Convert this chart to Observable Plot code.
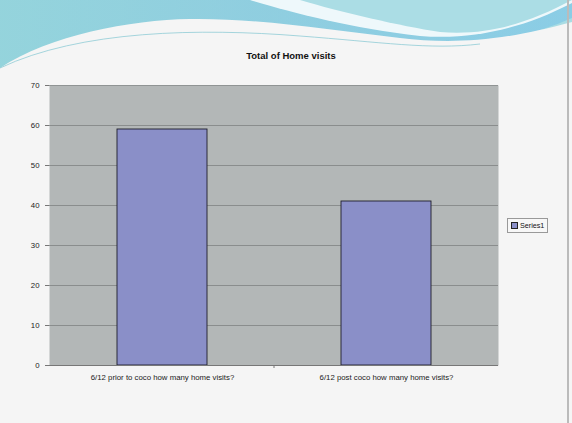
<!DOCTYPE html>
<html>
<head>
<meta charset="utf-8">
<script src="https://cdn.jsdelivr.net/npm/d3@7"></script>
<script src="https://cdn.jsdelivr.net/npm/@observablehq/plot@0.6"></script>
<style>
  html, body { margin: 0; padding: 0; }
  body { width: 572px; height: 423px; background: #f5f5f5; position: relative; overflow: hidden; font-family: "Liberation Sans", Arial, sans-serif; }
  #deco { position: absolute; left: 0; top: 0; }
  #chart { position: absolute; left: 0; top: 0; }
  #title { position: absolute; left: 0; width: 582px; top: 50px; text-align: center; font-weight: bold; font-size: 9.5px; color: #111; }
  #legend { position: absolute; left: 507px; top: 218px; border: 1px solid #999; background: #f7f7f7; padding: 2px 3px; font-size: 7.2px; color: #111; display: flex; align-items: center; gap: 2px; }
  #legend .sw { width: 5px; height: 5px; background: #8a8fc8; border: 1px solid #222; }
</style>
</head>
<body>
<svg id="deco" width="572" height="423">
  <defs>
    <linearGradient id="g1" x1="0" x2="1" y1="0" y2="0">
      <stop offset="0" stop-color="#7cc3d3"/>
      <stop offset="0.45" stop-color="#8ec6d8"/>
      <stop offset="1" stop-color="#a9dde4"/>
    </linearGradient>
    <linearGradient id="g2" x1="0" x2="1" y1="0" y2="0">
      <stop offset="0" stop-color="#9fdbe0"/>
      <stop offset="1" stop-color="#7ec6e6"/>
    </linearGradient>
  </defs>
  <rect x="0" y="0" width="572" height="70" fill="url(#g1)"/>
  <path d="M0,68 C60,48 200,40 300,42 C380,44 420,50 460,46 C510,40 545,30 572,18 L572,0 L0,0 Z" fill="url(#g2)" opacity="0.7"/>
  <path d="M0,68 C50,35 130,20 190,19 C260,18 330,30 400,38 C450,44 500,42 572,22 L572,423 L0,423 Z" fill="#f5f5f5"/>
  <path d="M250,0 C290,12 350,28 420,36 C470,40 520,30 572,3 L572,0 Z" fill="#ffffff" opacity="0.85"/>
  <path d="M300,0 C340,12 400,26 440,32 C490,36 530,22 572,0 Z" fill="#abdde5"/>
  <path d="M0,68 C80,30 200,28 300,36 C380,42 430,50 480,44" fill="none" stroke="#8fcbd6" stroke-width="0.8"/>
  <line x1="568" y1="0" x2="568" y2="423" stroke="#bbbbbb" stroke-width="2"/>
</svg>
<div id="chart"></div>
<div id="title">Total of Home visits</div>
<div id="legend"><span class="sw"></span><span>Series1</span></div>
<script>
const categories = ["6/12 prior to coco how many home visits?", "6/12 post coco how many home visits?"];
const values = [59, 41];
const yTicks = [0, 10, 20, 30, 40, 50, 60, 70];

const data = categories.map((c, i) => ({category: c, value: values[i]}));

const plot = Plot.plot({
  width: 572,
  height: 423,
  marginLeft: 49,
  marginRight: 74,
  marginTop: 85,
  marginBottom: 58,
  style: {background: "transparent", fontFamily: "Liberation Sans, Arial, sans-serif", fontSize: "7.8px", color: "#222"},
  x: {domain: categories, paddingInner: 0.6, paddingOuter: 0.3, label: null},
  y: {domain: [0, 70], ticks: yTicks, label: null},
  marks: [
    Plot.frame({fill: "#b3b7b7", stroke: null}),
    Plot.gridY(yTicks, {stroke: "#7f8383", strokeOpacity: 1, strokeWidth: 0.8}),
    Plot.barY(data, {x: "category", y: "value", fill: "#8a8fc8", stroke: "#1e1e2a", strokeWidth: 0.9}),
    Plot.axisY({ticks: yTicks, tickSize: 4, tickPadding: 6, stroke: "#777", fill: "#222", fontSize: 7.8}),
    Plot.ruleX([0], {stroke: "#777"}),
    Plot.ruleY([0], {stroke: "#777"}),
    Plot.axisX({tickSize: 0, tickPadding: 9, fill: "#222", fontSize: 7.8})
  ]
});
document.getElementById("chart").appendChild(plot);

// small divider tick between the two categories, placed via the scales
const xs = plot.scale("x");
const ys = plot.scale("y");
const mid = (xs.apply(categories[0]) + xs.bandwidth + xs.apply(categories[1])) / 2;
d3.select(plot).append("line")
  .attr("x1", mid).attr("x2", mid)
  .attr("y1", ys.apply(0)).attr("y2", ys.apply(0) + 3)
  .attr("stroke", "#777");
</script>
</body>
</html>
